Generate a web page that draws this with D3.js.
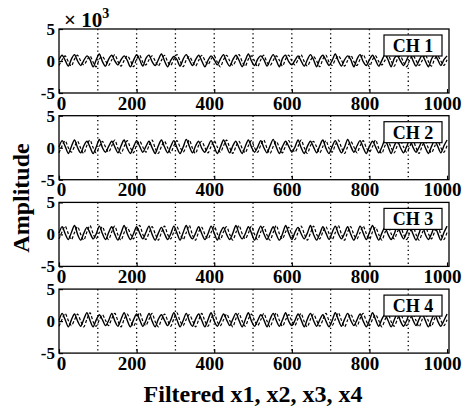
<!DOCTYPE html>
<html>
<head>
<meta charset="utf-8">
<script src="https://cdn.jsdelivr.net/npm/d3@7"></script>
<style>
  body { margin: 0; background: #fff; }
  svg text { font-family: "Liberation Serif", "Times New Roman", serif; font-weight: bold; fill: #000; }
  .frame { fill: none; stroke: #000; stroke-width: 1.3; }
  .grid line { stroke: #000; stroke-width: 1.3; stroke-dasharray: 1.3,3; }
  .trace { fill: none; stroke: #000; stroke-width: 1.4; }
  .trace.dashed { stroke-dasharray: 3,2; stroke-width: 1.2; }
  .tag rect { fill: #fff; stroke: #000; stroke-width: 1.2; }
</style>
</head>
<body>
<div id="chart"></div>
<script>
// samples are taken every 8 units along x (0 .. 1000), values in units of 10^3
var sampleStep = 8;
var channelNames = ["CH 1", "CH 2", "CH 3", "CH 4"];
var xTicks = [0, 200, 400, 600, 800, 1000];
var xGrid = [100, 200, 300, 400, 500, 600, 700, 800, 900];
var yTicks = [-5, 0, 5];

var ch1Solid = [
  0.2,0.9,0.1,-0.8,0.3,1.0,0.0,-0.7,0.1,0.8,0.2,-0.9,0.2,1.1,-0.1,-0.8,
  0.3,0.9,0.0,-0.6,0.2,0.8,0.1,-0.9,0.1,1.0,0.2,-0.8,0.4,0.9,-0.1,-0.7,
  0.2,1.1,0.0,-0.9,0.1,0.7,0.2,-0.8,0.3,1.0,0.1,-0.7,0.2,0.9,0.0,-0.9,
  0.1,0.8,0.2,-0.6,0.3,1.0,-0.1,-0.8,0.2,0.9,0.1,-0.9,0.1,1.1,0.0,-0.7,
  0.3,0.8,0.2,-0.8,0.2,1.0,0.1,-0.9,0.4,0.9,-0.1,-0.6,0.1,0.8,0.0,-0.8,
  0.2,1.0,0.2,-0.9,0.3,0.9,0.1,-0.7,0.1,1.1,0.0,-0.8,0.2,0.8,0.2,-0.9,
  0.3,1.0,-0.1,-0.7,0.2,0.9,0.1,-0.8,0.1,1.0,0.2,-0.9,0.4,0.8,0.0,-0.7,
  0.2,1.1,0.1,-0.8,0.1,0.9,0.0,-0.9,0.3,1.0,0.2,-0.7,0.2,0.8];
var ch1Dashed = [
  -0.7,0.2,0.8,-0.1,-0.8,0.3,0.9,0.0,-0.6,0.1,0.8,-0.2,-0.9,0.3,0.7,0.0,
  -0.7,0.2,1.0,-0.1,-0.8,0.1,0.8,0.1,-0.9,0.3,0.9,-0.2,-0.6,0.2,0.8,0.0,
  -0.8,0.1,0.9,-0.1,-0.7,0.3,1.0,0.0,-0.9,0.2,0.7,-0.1,-0.8,0.1,0.9,0.1,
  -0.6,0.3,0.8,-0.2,-0.9,0.2,0.9,0.0,-0.7,0.1,1.0,-0.1,-0.8,0.3,0.8,0.0,
  -0.9,0.2,0.9,-0.2,-0.7,0.1,0.8,0.1,-0.8,0.3,0.9,0.0,-0.6,0.2,1.0,-0.1,
  -0.8,0.1,0.7,0.0,-0.9,0.3,0.9,-0.2,-0.7,0.2,0.8,0.1,-0.8,0.1,0.9,-0.1,
  -0.7,0.3,1.0,0.0,-0.9,0.2,0.8,-0.1,-0.6,0.1,0.9,0.0,-0.8,0.3,0.8,-0.2,
  -0.9,0.2,0.9,0.1,-0.7,0.1,1.0,-0.1,-0.8,0.3,0.8,0.0,-0.7,0.2];

var ch2Solid = [
  0.1,1.1,0.2,-0.9,0.2,1.2,0.0,-0.8,0.3,1.0,0.1,-0.9,0.1,1.3,0.0,-0.7,
  0.2,1.0,0.1,-0.8,0.3,1.2,-0.1,-0.9,0.1,1.1,0.2,-0.7,0.2,1.0,0.0,-0.9,
  0.3,1.2,0.1,-0.8,0.2,1.1,0.0,-0.9,0.1,1.3,0.2,-0.8,0.3,1.0,-0.1,-0.7,
  0.2,1.1,0.1,-0.9,0.1,1.2,0.2,-0.8,0.3,1.0,0.0,-0.9,0.2,1.2,0.1,-0.7,
  0.1,1.1,0.0,-0.8,0.3,1.3,0.1,-0.9,0.2,1.0,0.2,-0.7,0.1,1.2,0.0,-0.9,
  0.2,1.0,0.1,-0.8,0.3,1.2,-0.1,-0.9,0.2,1.1,0.1,-0.8,0.1,1.3,0.2,-0.7,
  0.3,1.1,0.0,-0.9,0.2,1.0,0.1,-0.8,0.1,1.2,0.2,-0.9,0.3,1.1,0.0,-0.8,
  0.2,1.2,0.1,-0.7,0.1,1.0,0.0,-0.9,0.2,1.1,0.2,-0.8,0.3,1.2];
var ch2Dashed = [
  -0.8,0.3,1.1,0.0,-0.7,0.2,1.0,-0.1,-0.9,0.4,1.2,0.0,-0.8,0.2,1.0,0.1,
  -0.7,0.3,1.2,-0.1,-0.9,0.2,1.1,0.0,-0.8,0.4,1.0,0.1,-0.7,0.3,1.2,-0.1,
  -0.9,0.2,1.0,0.0,-0.8,0.3,1.1,0.1,-0.7,0.2,1.2,-0.1,-0.9,0.4,1.0,0.0,
  -0.8,0.2,1.1,0.1,-0.7,0.3,1.2,0.0,-0.9,0.2,1.0,-0.1,-0.8,0.3,1.1,0.0,
  -0.7,0.4,1.2,-0.1,-0.9,0.2,1.0,0.0,-0.8,0.3,1.1,0.1,-0.7,0.2,1.2,0.0,
  -0.9,0.3,1.0,0.1,-0.8,0.2,1.1,-0.1,-0.7,0.4,1.2,0.0,-0.9,0.2,1.0,0.1,
  -0.8,0.3,1.1,0.0,-0.7,0.2,1.2,-0.1,-0.9,0.3,1.0,0.0,-0.8,0.4,1.1,0.1,
  -0.7,0.2,1.2,0.0,-0.9,0.3,1.0,-0.1,-0.8,0.2,1.1,0.0,-0.7,0.3];

var ch3Solid = [
  0.2,1.2,0.1,-0.8,0.3,1.4,0.0,-0.9,0.2,1.1,0.2,-0.7,0.1,1.3,0.1,-0.8,
  0.3,1.2,0.0,-0.9,0.2,1.4,0.1,-0.8,0.1,1.2,0.2,-0.7,0.3,1.3,0.0,-0.9,
  0.2,1.1,0.1,-0.8,0.1,1.3,0.2,-0.9,0.3,1.4,0.0,-0.7,0.2,1.2,0.1,-0.8,
  0.1,1.3,0.2,-0.9,0.3,1.1,0.0,-0.8,0.2,1.4,0.1,-0.7,0.1,1.2,0.2,-0.9,
  0.3,1.3,0.1,-0.8,0.2,1.2,0.0,-0.9,0.1,1.4,0.2,-0.8,0.3,1.1,0.1,-0.7,
  0.2,1.4,0.0,-0.9,0.1,1.2,0.2,-0.8,0.3,1.3,0.1,-0.7,0.2,1.2,0.0,-0.9,
  0.1,1.3,0.2,-0.8,0.3,1.4,0.1,-0.9,0.2,1.1,0.0,-0.8,0.1,1.3,0.2,-0.7,
  0.3,1.2,0.1,-0.9,0.2,1.4,0.0,-0.8,0.1,1.2,0.2,-0.9,0.3,1.3];
var ch3Dashed = [
  -0.7,0.4,1.3,0.1,-0.8,0.3,1.2,0.0,-0.9,0.4,1.4,0.1,-0.7,0.3,1.2,0.0,
  -0.8,0.4,1.3,-0.1,-0.9,0.3,1.1,0.1,-0.7,0.4,1.4,0.0,-0.8,0.2,1.2,0.1,
  -0.9,0.3,1.3,0.0,-0.7,0.4,1.2,0.1,-0.8,0.3,1.4,-0.1,-0.9,0.4,1.1,0.0,
  -0.7,0.3,1.3,0.1,-0.8,0.4,1.2,0.0,-0.9,0.3,1.4,0.1,-0.7,0.2,1.3,0.0,
  -0.8,0.4,1.2,-0.1,-0.9,0.3,1.4,0.1,-0.7,0.4,1.1,0.0,-0.8,0.3,1.3,0.1,
  -0.9,0.2,1.3,0.0,-0.7,0.4,1.2,0.1,-0.8,0.3,1.4,0.0,-0.9,0.4,1.2,-0.1,
  -0.7,0.3,1.3,0.1,-0.8,0.4,1.1,0.0,-0.9,0.3,1.3,0.1,-0.7,0.4,1.2,0.0,
  -0.8,0.3,1.4,0.0,-0.9,0.2,1.2,0.1,-0.7,0.4,1.3,0.0,-0.8,0.3];

var ch4Solid = [
  0.1,1.2,0.2,-0.9,0.2,1.1,0.0,-0.8,0.3,1.3,0.1,-0.9,0.2,1.0,0.2,-0.7,
  0.1,1.2,0.0,-0.8,0.3,1.3,0.1,-0.9,0.2,1.1,0.2,-0.8,0.1,1.2,0.0,-0.9,
  0.3,1.0,0.1,-0.7,0.2,1.3,0.2,-0.9,0.1,1.2,0.0,-0.8,0.3,1.1,0.1,-0.9,
  0.2,1.3,0.0,-0.8,0.1,1.1,0.2,-0.7,0.3,1.2,0.1,-0.9,0.2,1.3,0.0,-0.8,
  0.1,1.0,0.2,-0.9,0.3,1.2,0.1,-0.8,0.2,1.3,0.0,-0.7,0.1,1.1,0.2,-0.9,
  0.3,1.2,0.1,-0.8,0.2,1.0,0.0,-0.9,0.1,1.3,0.2,-0.8,0.3,1.2,0.1,-0.7,
  0.2,1.1,0.0,-0.9,0.1,1.3,0.2,-0.8,0.3,1.0,0.1,-0.9,0.2,1.2,0.0,-0.8,
  0.1,1.3,0.2,-0.7,0.3,1.1,0.1,-0.9,0.2,1.2,0.0,-0.8,0.1,1.1];
var ch4Dashed = [
  -0.8,0.3,1.2,0.1,-0.7,0.2,1.1,0.0,-0.9,0.3,1.3,-0.1,-0.8,0.2,1.0,0.1,
  -0.7,0.4,1.2,0.0,-0.9,0.3,1.1,0.1,-0.8,0.2,1.3,0.0,-0.7,0.3,1.2,-0.1,
  -0.9,0.2,1.1,0.1,-0.8,0.4,1.3,0.0,-0.7,0.3,1.0,0.1,-0.9,0.2,1.2,0.0,
  -0.8,0.3,1.3,-0.1,-0.7,0.2,1.1,0.1,-0.9,0.4,1.2,0.0,-0.8,0.3,1.1,0.1,
  -0.7,0.2,1.2,0.0,-0.9,0.3,1.3,0.1,-0.8,0.2,1.0,0.0,-0.7,0.4,1.2,-0.1,
  -0.9,0.3,1.1,0.1,-0.8,0.2,1.2,0.0,-0.7,0.3,1.3,0.1,-0.9,0.2,1.1,0.0,
  -0.8,0.4,1.2,0.0,-0.7,0.3,1.0,0.1,-0.9,0.2,1.2,-0.1,-0.8,0.3,1.3,0.0,
  -0.7,0.2,1.1,0.1,-0.9,0.3,1.2,0.0,-0.8,0.4,1.1,0.1,-0.7,0.2];

var solidSeries = [ch1Solid, ch2Solid, ch3Solid, ch4Solid];
var dashedSeries = [ch1Dashed, ch2Dashed, ch3Dashed, ch4Dashed];

var width = 466, height = 407;
var plotLeft = 59, plotRight = 449;
var panelTop = 29, panelHeight = 64, panelGap = 86.7;

var svg = d3.select("#chart").append("svg")
    .attr("width", width)
    .attr("height", height);

var x = d3.scaleLinear().domain([0, 1005]).range([plotLeft, plotRight]);

/**
 * One strip of the figure: frame, grid, ticks, the two traces and the channel tag
 */
function SignalPanel(index){
    var self = this;
    self.index = index;
    self.top = panelTop + index * panelGap;
    self.y = d3.scaleLinear().domain([-5, 5]).range([self.top + panelHeight, self.top]);
    self.g = svg.append("g").attr("class", "panel");
    self.init();
}

SignalPanel.prototype.init = function(){
    var self = this;
    var y = self.y;

    // dotted vertical grid
    self.g.append("g").attr("class", "grid")
        .selectAll("line").data(xGrid).enter().append("line")
        .attr("x1", function(d){ return x(d); })
        .attr("x2", function(d){ return x(d); })
        .attr("y1", y(5))
        .attr("y2", y(-5));

    // traces
    var line = d3.line()
        .x(function(d, i){ return x(i * sampleStep); })
        .y(function(d){ return y(d); })
        .curve(d3.curveCardinal.tension(0.2));

    self.g.append("path").attr("class", "trace")
        .attr("d", line(solidSeries[self.index]));
    self.g.append("path").attr("class", "trace dashed")
        .attr("d", line(dashedSeries[self.index]));

    // axes, plain labels (no thousands comma, hyphen minus)
    var xAxis = d3.axisBottom(x).tickValues(xTicks)
        .tickFormat(function(d){ return String(d); })
        .tickSizeInner(-4).tickSizeOuter(0).tickPadding(3);
    var xg = self.g.append("g")
        .attr("transform", "translate(0," + y(-5) + ")")
        .call(xAxis)
        .attr("font-size", null)
        .attr("font-family", null);
    xg.select(".domain").remove();
    xg.selectAll("text")
        .attr("dx", function(d){ return d === 0 ? 2 : -5; })
        .style("font-size", "19px");

    var yAxis = d3.axisLeft(y).tickValues(yTicks)
        .tickFormat(function(d){ return String(d); })
        .tickSizeInner(-4).tickSizeOuter(0).tickPadding(4);
    var yg = self.g.append("g")
        .attr("transform", "translate(" + plotLeft + ",0)")
        .call(yAxis)
        .attr("font-size", null)
        .attr("font-family", null);
    yg.select(".domain").remove();
    yg.selectAll("text")
        .style("font-size", "17px");

    self.g.selectAll(".tick line").attr("stroke", "#000").attr("stroke-width", 1.2);

    // frame
    self.g.append("rect").attr("class", "frame")
        .attr("x", plotLeft)
        .attr("y", self.top)
        .attr("width", plotRight - plotLeft)
        .attr("height", panelHeight);

    // channel tag
    var tag = self.g.append("g").attr("class", "tag");
    tag.append("rect")
        .attr("x", 384)
        .attr("y", self.top + 6)
        .attr("width", 58)
        .attr("height", 21);
    tag.append("text")
        .attr("x", 413)
        .attr("y", self.top + 23)
        .attr("text-anchor", "middle")
        .style("font-size", "18px")
        .text(channelNames[self.index]);
};

channelNames.forEach(function(d, i){
    new SignalPanel(i);
});

// exponent note above the first strip
var expo = svg.append("text")
    .attr("x", 64)
    .attr("y", 27)
    .style("font-size", "21px");
expo.append("tspan").text("\u00d7 10");
expo.append("tspan").attr("dy", -9).style("font-size", "14px").text("3");

// axis titles
svg.append("text")
    .attr("transform", "translate(29," + 198 + ") rotate(-90)")
    .attr("text-anchor", "middle")
    .style("font-size", "24px")
    .text("Amplitude");

svg.append("text")
    .attr("x", 253)
    .attr("y", 402)
    .attr("text-anchor", "middle")
    .style("font-size", "24px")
    .text("Filtered x1, x2, x3, x4");
</script>
</body>
</html>
